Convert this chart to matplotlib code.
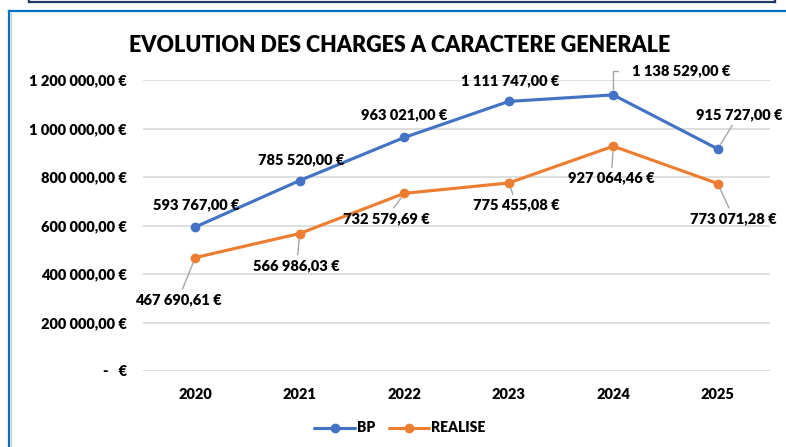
import matplotlib
matplotlib.use("Agg")
import matplotlib.pyplot as plt
from matplotlib.lines import Line2D
from matplotlib.ticker import FuncFormatter, MultipleLocator

# ---- data ----
years = ["2020", "2021", "2022", "2023", "2024", "2025"]
bp = [593767.00, 785520.00, 963021.00, 1111747.00, 1138529.00, 915727.00]
realise = [467690.61, 566986.03, 732579.69, 775455.08, 927064.46, 773071.28]
series_names = ["BP", "REALISE"]
title = "EVOLUTION DES CHARGES A CARACTERE GENERALE"

# label offsets in pixels (label centre relative to point), and leader flag
bp_offsets = [(1, 22), (1, 21), (0, 23), (1, 21), (68, 24), (21, 34)]
bp_leader = [False, False, False, False, "elbow", True]
re_offsets = [(-17, -42), (-3, -32), (-18, -25), (8, -22), (-2, -32), (16, -35)]
re_leader = [True, True, True, True, True, True]

BLUE = "#4472C4"
ORANGE = "#ED7D31"
FONT = "Lato"
WEIGHT = "heavy"

plt.rcParams["font.family"] = [FONT, "DejaVu Sans"]
plt.rcParams["font.weight"] = WEIGHT


def euro(v):
    if abs(v) < 0.005:
        return "-   €"
    s = f"{v:,.2f}".replace(",", " ").replace(".", ",")
    return s + " €"


fig = plt.figure(figsize=(7.86, 4.47), dpi=100)
W, H = 786, 447
ax = fig.add_axes([143 / W, 1 - 371 / H, (770 - 143) / W, (371 - 80) / H])

x = list(range(len(years)))
ax.plot(x, bp, color=BLUE, lw=2.25, marker="o", ms=6, label=series_names[0],
        solid_capstyle="round", zorder=3, clip_on=False)
ax.plot(x, realise, color=ORANGE, lw=2.25, marker="o", ms=6, label=series_names[1],
        solid_capstyle="round", zorder=3, clip_on=False)

ax.set_xlim(-0.5, len(years) - 0.5)
ax.set_ylim(0, 1200000)
ax.yaxis.set_major_locator(MultipleLocator(200000))
ax.yaxis.set_major_formatter(FuncFormatter(lambda v, p: euro(v)))
ax.set_xticks(x)
ax.set_xticklabels(years)
ax.tick_params(axis="both", length=0, labelsize=10.5)
ax.tick_params(axis="y", pad=11.5)
ax.tick_params(axis="x", pad=12)
for lab in ax.get_xticklabels() + ax.get_yticklabels():
    lab.set_fontweight(WEIGHT)
ax.grid(axis="y", color="#D9D9D9", lw=1.2)
ax.set_axisbelow(True)
for s in ax.spines.values():
    s.set_visible(False)


def add_labels(vals, offsets, leaders):
    for i, (v, off, ld) in enumerate(zip(vals, offsets, leaders)):
        kw = dict(textcoords="offset pixels", ha="center", va="center",
                  fontsize=10.5, fontweight=WEIGHT, annotation_clip=False, zorder=4)
        if ld == "elbow":
            kw["arrowprops"] = dict(arrowstyle="-", color="#A6A6A6", lw=1,
                                    shrinkA=8, shrinkB=4, relpos=(0, 0.5),
                                    connectionstyle="angle,angleA=0,angleB=90,rad=0")
        elif ld:
            kw["arrowprops"] = dict(arrowstyle="-", color="#A6A6A6", lw=1,
                                    shrinkA=1, shrinkB=4)
        ax.annotate(euro(v), xy=(i, v), xytext=off, **kw)


add_labels(bp, bp_offsets, bp_leader)
add_labels(realise, re_offsets, re_leader)

fig.text(400 / W, 1 - 45 / H, title, ha="center", va="center",
         fontsize=15.5, fontweight=WEIGHT)

leg = ax.legend(loc="center", bbox_to_anchor=(400 / W, 1 - 428 / H),
                bbox_transform=fig.transFigure, ncol=2, frameon=False,
                prop={"size": 10, "weight": WEIGHT}, handlelength=2.9,
                columnspacing=1.0, handletextpad=0.15)

# frames
tf = fig.transFigure
def fx(px):
    return px / W
def fy(py):
    return 1 - py / H

fig.add_artist(Line2D([fx(9), fx(9)], [fy(11), fy(447)], color="#0070C0", lw=1.6, transform=tf))
fig.add_artist(Line2D([fx(9), fx(786)], [fy(11), fy(11)], color="#0070C0", lw=1.6, transform=tf))
fig.add_artist(Line2D([fx(11), fx(11)], [fy(13), fy(447)], color="#D0D0D0", lw=1, transform=tf))
fig.add_artist(Line2D([fx(28.5), fx(775)], [fy(2), fy(2)], color="#1F3864", lw=1.6, transform=tf))
fig.add_artist(Line2D([fx(28.5), fx(28.5)], [fy(0), fy(2)], color="#1F3864", lw=1.6, transform=tf))
fig.add_artist(Line2D([fx(775), fx(775)], [fy(0), fy(2)], color="#1F3864", lw=1.6, transform=tf))

fig.savefig("out.png", dpi=100)
